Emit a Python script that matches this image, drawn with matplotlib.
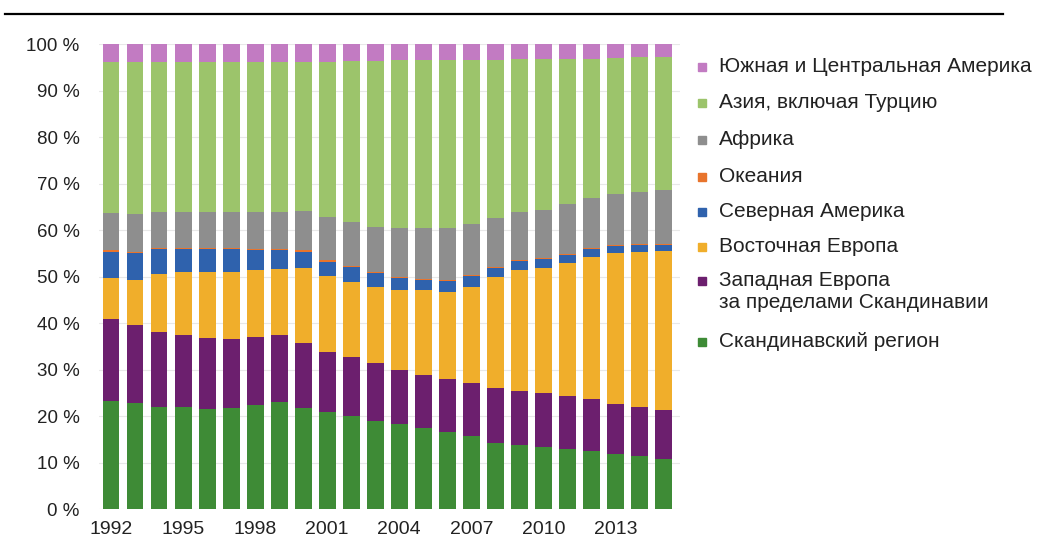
import numpy as np
import matplotlib.pyplot as plt
from matplotlib.patches import Rectangle
from matplotlib.lines import Line2D

plt.rcParams['font.family'] = ['Liberation Sans', 'DejaVu Sans']

# Years and shares (%) by region
years = list(range(1992, 2016))
scandinavia = [23.4, 22.8, 22.1, 22.1, 21.6, 21.8, 22.5, 23.2, 21.8, 21.0, 20.1, 19.1,
               18.3, 17.5, 16.6, 15.7, 14.4, 13.9, 13.5, 13.1, 12.6, 11.9, 11.4, 10.9]
west_europe = [17.5, 16.9, 16.0, 15.4, 15.2, 14.8, 14.5, 14.3, 13.9, 12.9, 12.6, 12.3,
               11.8, 11.4, 11.4, 11.6, 11.7, 11.6, 11.5, 11.2, 11.1, 10.7, 10.6, 10.5]
east_europe = [8.8, 9.7, 12.5, 13.6, 14.3, 14.5, 14.5, 14.3, 16.2, 16.3, 16.3, 16.5,
               17.1, 18.2, 18.8, 20.6, 23.8, 26.0, 26.9, 28.6, 30.7, 32.5, 33.4, 34.1]
north_america = [5.7, 5.7, 5.4, 4.9, 4.9, 4.9, 4.3, 4.0, 3.5, 3.1, 3.1, 2.9,
                 2.5, 2.3, 2.4, 2.3, 2.0, 1.9, 1.9, 1.8, 1.6, 1.6, 1.5, 1.4]
oceania = [0.3, 0.3, 0.3, 0.3, 0.3, 0.3, 0.3, 0.3, 0.3, 0.3, 0.3, 0.3,
           0.2, 0.2, 0.2, 0.2, 0.2, 0.2, 0.2, 0.2, 0.2, 0.2, 0.2, 0.2]
africa = [8.0, 8.1, 7.7, 7.7, 7.7, 7.7, 7.9, 7.9, 8.5, 9.2, 9.5, 9.7,
          10.6, 10.9, 11.1, 10.9, 10.5, 10.3, 10.4, 10.8, 10.7, 10.9, 11.1, 11.5]
asia = [32.5, 32.7, 32.2, 32.2, 32.2, 32.2, 32.2, 32.2, 32.0, 33.5, 34.5, 35.7,
        36.2, 36.2, 36.2, 35.4, 34.1, 32.9, 32.4, 31.1, 29.9, 29.2, 29.0, 28.8]
south_america = [3.8, 3.8, 3.8, 3.8, 3.8, 3.8, 3.8, 3.8, 3.8, 3.7, 3.6, 3.5,
                 3.3, 3.3, 3.3, 3.3, 3.3, 3.2, 3.2, 3.2, 3.2, 3.0, 2.8, 2.6]

series = [
    ("Скандинавский регион", scandinavia, "#3e8b36"),
    ("Западная Европа\nза пределами Скандинавии", west_europe, "#6c1f6e"),
    ("Восточная Европа", east_europe, "#f0ae2b"),
    ("Северная Америка", north_america, "#2f62ad"),
    ("Океания", oceania, "#e8742c"),
    ("Африка", africa, "#8e8e8e"),
    ("Азия, включая Турцию", asia, "#9cc46b"),
    ("Южная и Центральная Америка", south_america, "#c27bc2"),
]

fig = plt.figure(figsize=(10.38, 5.42), dpi=100)
ax = fig.add_axes([0.0954, 0.060, 0.560, 0.858])

x = np.arange(len(years))
bottom = np.zeros(len(years))
for name, vals, col in series:
    ax.bar(x, vals, width=0.7, bottom=bottom, color=col, zorder=2)
    bottom += np.array(vals)

ax.set_xlim(-0.5, 23.7)
ax.set_ylim(0, 100)
ax.set_yticks(range(0, 101, 10))
ax.set_yticklabels([f"{v} %" for v in range(0, 101, 10)], fontsize=13.5, color="#222222")
ax.set_xticks(x[::3])
ax.set_xticklabels([str(y) for y in years[::3]], fontsize=14, color="#222222")
ax.tick_params(axis="y", length=0, pad=14)
ax.tick_params(axis="x", length=0, pad=8)
ax.yaxis.grid(True, color="#e8e8e8", linewidth=0.8, zorder=0)
for s in ax.spines.values():
    s.set_visible(False)

# top rule
fig.add_artist(Line2D([5 / 1038, 1003 / 1038], [1 - 14 / 542, 1 - 14 / 542],
                      color="black", linewidth=1.6))

# legend, top to bottom
leg_y = [67, 103, 140, 177, 212, 247, 281, 342]
for (name, vals, col), yy in zip(series[::-1], leg_y):
    fy = 1 - yy / 542
    fig.add_artist(Rectangle((698 / 1038, fy - 4 / 542), 8 / 1038, 8 / 542,
                             color=col, transform=fig.transFigure))
    fig.text(719 / 1038, fy + 10 / 542, name, fontsize=15, va="top", ha="left",
             linespacing=1.2, color="#222222")

fig.savefig("out.png", dpi=100)
